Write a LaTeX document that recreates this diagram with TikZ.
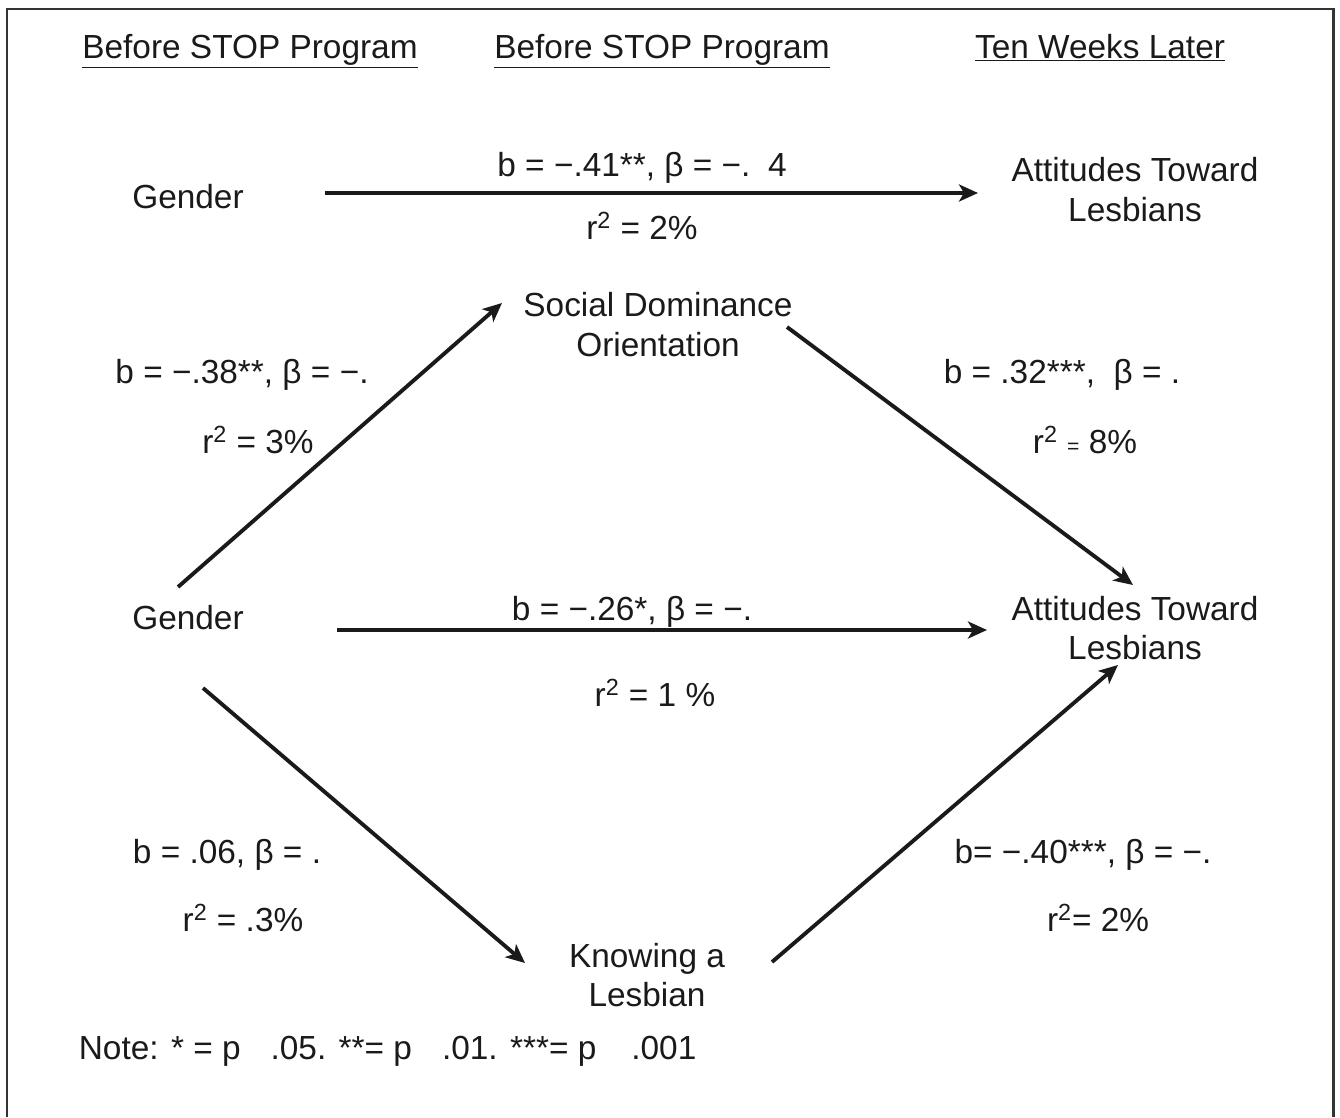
\documentclass[tikz,border=0pt]{standalone}
\usepackage{fontspec}
\setmainfont{Liberation Sans}
\usepackage{xcolor}
\usetikzlibrary{arrows.meta}
\definecolor{InkBlack}{HTML}{1A1A1A}
\definecolor{FrameGray}{HTML}{333333}

\begin{document}
\begin{tikzpicture}[
    txt/.style={align=center, inner sep=2pt, text=InkBlack,
                font=\fontsize{19}{22.7}\selectfont},
    head/.style={txt, anchor=base},
    lab/.style={txt},
    arr/.style={-{Stealth[length=0.38cm, width=0.34cm, inset=0.1cm]},
                line width=2.2pt, InkBlack},
    frame/.style={draw=FrameGray, line width=1.7pt}
  ]
    \useasboundingbox (0,0) rectangle (26.8,-22.34);
    \draw[frame] (0.14,-22.34) |- (26.66,-0.18) -- (26.66,-22.34);

    % Column headings
    \node[head] (hdA) at (5.0,  -1.16) {\underline{Before STOP Program}};
    \node[head] (hdB) at (13.24,-1.16) {\underline{Before STOP Program}};
    \node[head] (hdC) at (22.0, -1.16) {\underline{Ten Weeks Later}};

    % Top model: direct path
    \node[txt] (gendA) at (3.76,-3.94) {Gender};
    \node[txt] (attA)  at (22.7,-3.8)  {Attitudes Toward\\Lesbians};
    \node[lab] (labA1) at (12.84,-3.36) {b = −.41**, β = −.\hspace{0.35cm}4};
    \node[lab] (labA2) at (12.84,-4.52) {r\textsuperscript{2} = 2\%};

    % Bottom model: mediators
    \node[txt] (sdo)   at (13.16,-6.5)  {Social Dominance\\Orientation};
    \node[txt] (gendB) at (3.76,-12.36) {Gender};
    \node[txt] (attB)  at (22.7,-12.56) {Attitudes Toward\\Lesbians};
    \node[txt] (know)  at (12.94,-19.5) {Knowing a\\Lesbian};

    % Path labels
    \node[lab] (labSD1) at (4.84,-7.5)   {b = −.38**, β = −.};
    \node[lab] (labSD2) at (5.16,-8.8)   {r\textsuperscript{2} = 3\%};
    \node[lab] (labSA1) at (21.24,-7.5)  {b = .32***,\ \ β = .};
    \node[lab] (labSA2) at (21.7,-8.8)   {r\textsuperscript{2} {\fontsize{12}{12}\selectfont =} 8\%};
    \node[lab] (labB1)  at (12.64,-12.24) {b = −.26*, β = −.};
    \node[lab] (labB2)  at (13.1,-13.86) {r\textsuperscript{2} = 1 \%};
    \node[lab] (labK1)  at (4.54,-17.1)  {b = .06, β = .};
    \node[lab] (labK2)  at (4.86,-18.36) {r\textsuperscript{2} = .3\%};
    \node[lab] (labKA1) at (21.66,-17.1) {b= −.40***, β = −.};
    \node[lab] (labKA2) at (21.96,-18.36) {r\textsuperscript{2}= 2\%};

    % Arrows
    \draw[arr] ([shift={(2.74,0.08)}]gendA.center)  -- ([shift={(-3.14,-0.06)}]attA.center);
    \draw[arr] ([shift={(-0.2,0.62)}]gendB.center)  -- ([shift={(-3.12,0.44)}]sdo.center);
    \draw[arr] ([shift={(2.58,-0.04)}]sdo.center)   -- ([shift={(-0.04,0.86)}]attB.center);
    \draw[arr] ([shift={(2.98,-0.24)}]gendB.center) -- ([shift={(-2.96,-0.04)}]attB.center);
    \draw[arr] ([shift={(0.3,-1.4)}]gendB.center)   -- ([shift={(-2.44,0.24)}]know.center);
    \draw[arr] ([shift={(2.5,0.26)}]know.center)    -- ([shift={(-0.34,-0.74)}]attB.center);

    % Note
    \node[txt, anchor=west] (note) at (1.5,-21.02)
      {Note: * = p\hspace{0.6cm}.05. **= p\hspace{0.6cm}.01. ***= p\hspace{0.7cm}.001};
  \end{tikzpicture}
\end{document}
